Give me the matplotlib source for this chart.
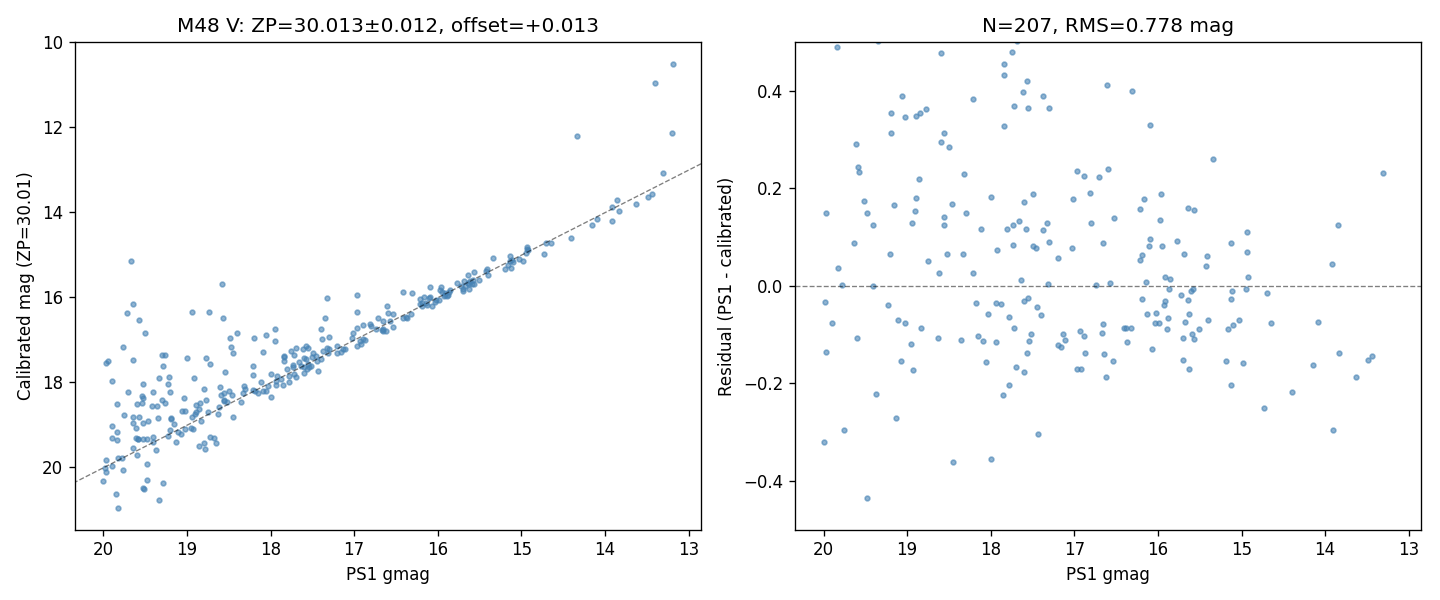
import matplotlib
matplotlib.use('Agg')
import matplotlib.pyplot as plt
import numpy as np

# stars with small residuals: PS1 gmag, residual
ps1_in = [19.84, 19.35, 18.60, 17.75, 17.84, 17.84, 17.57, 17.61, 17.38, 17.72,
          17.55, 17.30, 17.84, 17.69, 16.61, 19.06, 19.19, 19.02, 18.89, 18.84,
          18.77, 18.21, 19.19, 18.56, 18.59, 18.50, 19.61, 19.59, 19.58, 18.86,
          18.32, 16.97, 16.89, 16.71, 16.60, 16.81, 17.01, 16.53, 18.00, 17.49,
          17.60, 18.89, 19.52, 19.16, 18.46, 19.97, 19.48, 18.90, 18.30, 18.56,
          18.56, 19.41, 18.94, 18.12, 17.80, 17.73, 17.66, 17.58, 17.33, 17.37,
          16.80, 19.64, 17.92, 17.73, 17.50, 17.46, 17.30, 17.03, 16.66, 17.20,
          19.20, 18.52, 18.33, 18.75, 19.83, 18.62, 18.21, 17.64, 19.78, 19.41,
          17.31, 16.74, 16.57,
          19.98, 19.90, 19.97, 19.60, 19.23, 19.11, 19.02, 18.83, 18.95, 19.07,
          18.93, 19.37, 19.13, 19.76, 20.00, 19.48, 18.63, 18.35, 18.45, 18.18,
          18.03, 17.94, 17.88, 18.15, 18.09, 17.94, 18.06, 18.00, 17.78, 17.72,
          17.85, 17.78, 17.70, 17.60, 17.55, 17.45, 17.40, 17.52, 17.54, 17.56,
          17.60, 17.43, 17.13, 17.11, 17.20, 17.16, 16.93, 16.89, 16.87, 16.97,
          16.92, 16.66, 16.67, 16.65, 16.62, 16.54,
          16.31, 16.09, 15.34, 13.31, 15.96, 16.17, 16.21, 15.64, 15.57, 15.97,
          13.85, 14.93, 16.09, 16.11, 15.95, 15.77, 15.13, 14.93, 16.19, 16.21,
          15.69, 15.41, 15.42, 13.92, 16.14, 15.91, 15.85, 14.92, 15.87, 15.61,
          15.58, 15.11, 14.95, 14.70, 16.19, 15.91, 15.93, 15.72, 15.64, 15.13,
          16.13, 16.02, 15.63, 15.88, 15.40, 15.03, 16.03, 15.99, 15.67, 14.65,
          14.09, 16.41, 16.38, 16.32, 15.89, 15.51, 15.16, 15.10, 15.59, 15.70,
          15.57, 16.37, 16.07, 15.70, 15.63, 15.19, 14.98, 13.83, 14.15, 13.49,
          13.44, 13.63, 15.12, 14.40, 14.73, 13.91]
resid_in = [0.490, 0.502, 0.477, 0.479, 0.455, 0.432, 0.420, 0.397, 0.389, 0.369,
            0.365, 0.365, 0.328, 0.502, 0.412, 0.389, 0.354, 0.346, 0.348, 0.354,
            0.362, 0.383, 0.313, 0.313, 0.295, 0.285, 0.291, 0.243, 0.233, 0.219,
            0.229, 0.235, 0.225, 0.223, 0.239, 0.190, 0.178, 0.139, 0.182, 0.188,
            0.172, 0.180, 0.174, 0.166, 0.168, 0.149, 0.149, 0.153, 0.149, 0.141,
            0.125, 0.125, 0.129, 0.116, 0.116, 0.125, 0.133, 0.116, 0.129, 0.114,
            0.129, 0.088, 0.073, 0.083, 0.081, 0.077, 0.090, 0.077, 0.088, 0.057,
            0.065, 0.065, 0.065, 0.051, 0.036, 0.026, 0.026, 0.012, 0.001, -0.001,
            0.003, 0.001, 0.006,
            -0.033, -0.077, -0.136, -0.107, -0.040, -0.070, -0.077, -0.087, -0.120, -0.154,
            -0.173, -0.222, -0.271, -0.296, -0.321, -0.435, -0.107, -0.111, -0.360, -0.035,
            -0.058, -0.035, -0.038, -0.103, -0.113, -0.115, -0.157, -0.355, -0.064, -0.087,
            -0.224, -0.204, -0.167, -0.031, -0.025, -0.044, -0.060, -0.099, -0.113, -0.138,
            -0.177, -0.304, -0.099, -0.111, -0.122, -0.126, -0.093, -0.103, -0.138, -0.171,
            -0.171, -0.079, -0.097, -0.140, -0.187, -0.154,
            0.399, 0.330, 0.260, 0.231, 0.188, 0.178, 0.157, 0.159, 0.155, 0.135,
            0.125, 0.110, 0.096, 0.081, 0.081, 0.092, 0.088, 0.069, 0.063, 0.053,
            0.065, 0.061, 0.040, 0.045, 0.008, 0.018, 0.014, 0.018, -0.007, -0.011,
            -0.007, -0.011, -0.007, -0.015, -0.027, -0.031, -0.040, -0.019, -0.029, -0.027,
            -0.058, -0.056, -0.058, -0.066, -0.070, -0.070, -0.077, -0.077, -0.074, -0.077,
            -0.074, -0.087, -0.087, -0.087, -0.089, -0.089, -0.089, -0.081, -0.099, -0.107,
            -0.109, -0.115, -0.130, -0.152, -0.171, -0.154, -0.159, -0.138, -0.163, -0.152,
            -0.144, -0.187, -0.204, -0.218, -0.251, -0.296]

# outliers: PS1 gmag, calibrated mag
ps1_out = [19.67, 19.64, 19.72, 19.57, 19.50, 19.76, 19.65, 19.97, 19.95, 19.90,
           19.70, 19.84, 19.75, 19.90, 19.84, 19.90, 19.85, 19.83, 19.48, 19.52,
           19.51, 19.34, 19.29, 19.52, 19.41, 19.54, 19.53, 19.54, 19.60, 19.42,
           19.36, 19.33, 19.20, 19.30, 19.26, 19.29, 19.21, 19.23, 19.30, 19.26,
           19.65, 19.57, 19.65, 19.61, 19.52, 19.47, 19.00, 18.94, 18.74, 18.92,
           18.77, 18.73, 18.80, 19.03, 18.58, 18.57, 18.48, 18.47, 18.45, 18.40,
           18.55, 18.20, 18.21, 18.05, 18.09, 17.95, 17.95, 18.73, 18.68, 18.65,
           18.86, 18.80, 18.78, 13.19, 13.40, 13.20, 14.34, 17.33, 16.96, 16.96,
           17.35, 17.40, 16.41]
cal_out = [15.14, 16.15, 16.38, 16.53, 16.85, 17.18, 17.47, 17.54, 17.51, 17.96,
           18.24, 18.52, 18.78, 19.04, 19.18, 19.32, 20.64, 20.95, 20.29, 20.48,
           20.52, 20.76, 20.36, 18.05, 18.22, 18.32, 18.38, 18.50, 18.52, 18.55,
           18.57, 17.89, 18.24, 17.37, 17.37, 17.63, 17.87, 18.05, 18.43, 18.50,
           18.81, 18.83, 18.97, 19.07, 18.95, 18.92, 17.42, 16.36, 16.34, 17.91,
           17.44, 17.58, 18.15, 18.38, 15.68, 16.50, 16.97, 17.18, 17.32, 16.85,
           17.75, 16.97, 17.61, 16.88, 17.28, 16.74, 17.02, 19.30, 19.32, 19.44,
           19.51, 19.44, 19.56, 10.52, 10.97, 12.15, 12.22, 16.03, 15.94, 16.36,
           16.50, 16.76, 15.89]

zp = 30.013
zp_err = 0.012
offset = 0.013

gmag = np.concatenate([ps1_in, ps1_out])
cal = np.concatenate([np.array(ps1_in) - np.array(resid_in), cal_out])
resid = gmag - cal

fig, (ax1, ax2) = plt.subplots(1, 2, figsize=(12, 5), dpi=120)
fig.subplots_adjust(left=0.052, right=0.987, top=0.93, bottom=0.117, wspace=0.15)

ax1.scatter(gmag, cal, s=8, alpha=0.6, color='steelblue')
ax1.axline((15, 15 + offset), slope=1, color='k', ls='--', lw=0.8, alpha=0.5)
ax1.invert_xaxis()
ax1.invert_yaxis()
ax1.set_xlabel('PS1 gmag')
ax1.set_ylabel('Calibrated mag (ZP=%.2f)' % zp)
ax1.set_title('M48 V: ZP=%.3f\u00b1%.3f, offset=%+.3f' % (zp, zp_err, offset))

ax2.scatter(gmag, resid, s=8, alpha=0.6, color='steelblue')
ax2.axhline(0, color='k', ls='--', lw=0.8, alpha=0.5)
ax2.set_xlim(ax1.get_xlim())
ax2.set_ylim(-0.5, 0.5)
ax2.set_xlabel('PS1 gmag')
ax2.set_ylabel('Residual (PS1 - calibrated)')
ax2.set_title('N=207, RMS=0.778 mag')

plt.savefig('out.png')
